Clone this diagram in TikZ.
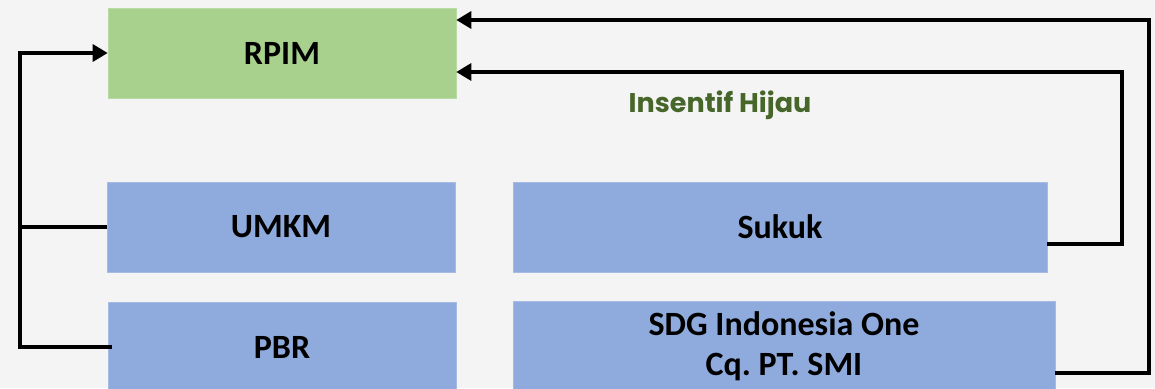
\documentclass[tikz,border=0pt]{standalone}
\usepackage{fontspec}
\setmainfont{Carlito}
\newfontfamily\hfont{Poppins}
\usetikzlibrary{arrows.meta}
\frenchspacing
\definecolor{bg}{HTML}{F4F4F4}
\definecolor{boxgreen}{HTML}{A9D18E}
\definecolor{boxblue}{HTML}{8FAADC}
\definecolor{txtgreen}{HTML}{46662A}
\tikzset{
  box/.style={rectangle, inner sep=0pt, minimum height=90pt, font=\fontsize{34}{39}\selectfont\bfseries, align=center, text=black},
  gbox/.style={box, fill=boxgreen, draw=boxgreen!80!white, line width=0.6pt},
  bbox/.style={box, fill=boxblue, draw=boxblue!80!white, line width=0.6pt},
  conn/.style={draw=black, line width=3.3pt},
  arr/.style={conn, -{Triangle[length=15pt,width=17pt]}},
}
\begin{document}
\begin{tikzpicture}[x=1pt,y=-1pt]
\useasboundingbox (0,0) rectangle (1155,388);
\clip (0,0) rectangle (1155,388);
\fill[bg] (0,0) rectangle (1155,388);
\node[gbox, minimum width=348pt] (rpim) at (282,53) {RPIM};
\node[bbox, minimum width=348pt] (umkm) at (281,227) {UMKM};
\node[bbox, minimum width=534pt] (sukuk) at (780,227) {Sukuk};
\node[bbox, minimum width=348pt] (pbr) at (282,347) {PBR};
\node[bbox, minimum width=542pt] (sdg) at (784,346) {SDG Indonesia One\\[1pt]Cq. PT. SMI};
\node[font=\hfont\bfseries\fontsize{27}{30}\selectfont, text=txtgreen] (ih) at (720,105) {Insentif Hijau};
\coordinate (lx) at (20,0);
\coordinate (rx1) at (1122,0);
\coordinate (rx2) at (1149,0);
\coordinate (rin1) at ([yshift=-19pt]rpim.east);
\coordinate (rin2) at ([yshift=33pt]rpim.east);
\coordinate (sout) at ([yshift=-17pt]sukuk.east);
\coordinate (dout) at ([yshift=-27pt]sdg.east);
\coordinate (pout) at ([xshift=4pt]pbr.west);
\draw[conn] (umkm.west) -- (lx |- umkm.west);
\draw[arr] (pout) -| (lx |- rpim.west) -- (rpim.west);
\draw[arr] (sout) -| (rx1 |- rin1) -- (rin1);
\draw[arr] (dout) -| (rx2 |- rin2) -- (rin2);
\end{tikzpicture}
\end{document}
